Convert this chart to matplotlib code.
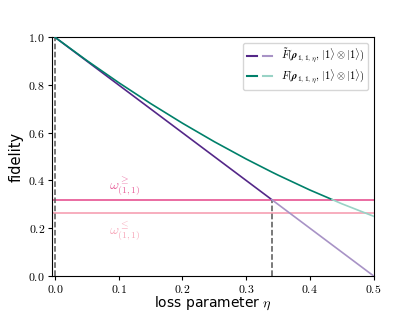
import matplotlib
matplotlib.use('Agg')
import matplotlib.pyplot as plt
import numpy as np
from matplotlib.lines import Line2D
from matplotlib.legend_handler import HandlerTuple

plt.rcParams['mathtext.fontset'] = 'cm'

# loss parameter samples and fidelities
eta = [0.0, 0.05, 0.1, 0.15, 0.2, 0.25, 0.3, 0.34, 0.35, 0.4, 0.435, 0.45, 0.5]
f_tilde = [1.0, 0.9, 0.8, 0.7, 0.6, 0.5, 0.4, 0.32, 0.3, 0.2, 0.13, 0.1, 0.0]
f_plain = [1.0, 0.9025, 0.81, 0.7225, 0.64, 0.5625, 0.49, 0.4356, 0.4225, 0.36, 0.32, 0.3025, 0.25]

omega_hi = 0.32     # omega^>=_(1,1)
omega_lo = 0.265    # omega^<=_(1,1)
eta_cut_tilde = 0.34
eta_cut_plain = 0.435

purple, purple_l = '#542788', '#a893c6'
green, green_l = '#00806a', '#99d3c6'
pink, pink_l = '#e8609a', '#f7a7b9'

eta = np.array(eta)
f_tilde = np.array(f_tilde)
f_plain = np.array(f_plain)

fig, ax = plt.subplots(figsize=(4.15, 3.11), dpi=100)
fig.subplots_adjust(left=0.125, right=0.9, bottom=0.113, top=0.88)

# horizontal thresholds
ax.axhline(omega_hi, color=pink, linewidth=1.3, zorder=1)
ax.axhline(omega_lo, color=pink_l, linewidth=1.3, zorder=1)

# dashed markers
ax.plot([0, 0], [0, 1], color='#555555', linestyle='--', linewidth=1.1, zorder=2)
ax.plot([eta_cut_tilde, eta_cut_tilde], [0, omega_hi], color='#555555',
        linestyle='--', linewidth=1.1, zorder=2)

m1 = eta <= eta_cut_tilde
ax.plot(eta[m1], f_tilde[m1], color=purple, linewidth=1.2, zorder=3)
m1b = eta >= eta_cut_tilde
ax.plot(eta[m1b], f_tilde[m1b], color=purple_l, linewidth=1.2, zorder=3)

m2 = eta <= eta_cut_plain
ax.plot(eta[m2], f_plain[m2], color=green, linewidth=1.2, zorder=3)
m2b = eta >= eta_cut_plain
ax.plot(eta[m2b], f_plain[m2b], color=green_l, linewidth=1.2, zorder=3)

ax.text(0.11, omega_hi + 0.01, r'$\omega^{\geq}_{(1,1)}$', color=pink,
        ha='center', va='bottom', fontsize=10)
ax.text(0.11, omega_lo - 0.03, r'$\omega^{\leq}_{(1,1)}$', color=pink_l,
        ha='center', va='top', fontsize=10)

ax.set_xlim(-0.005, 0.5)
ax.set_ylim(0, 1)
xt = [0.0, 0.1, 0.2, 0.3, 0.4, 0.5]
yt = [0.0, 0.2, 0.4, 0.6, 0.8, 1.0]
ax.set_xticks(xt)
ax.set_xticklabels([f'${v:.1f}$' for v in xt])
ax.set_yticks(yt)
ax.set_yticklabels([f'${v:.1f}$' for v in yt])
ax.tick_params(labelsize=8.5, length=3, pad=2)
ax.set_xlabel(r'loss parameter $\eta$', fontsize=10, labelpad=-1)
ax.set_ylabel('fidelity', fontsize=10.5, labelpad=3)

h1 = (Line2D([], [], color=purple, linewidth=1.5), Line2D([], [], color=purple_l, linewidth=1.5))
h2 = (Line2D([], [], color=green, linewidth=1.5), Line2D([], [], color=green_l, linewidth=1.5))
ax.legend([h1, h2],
          [r'$\tilde{F}(\boldsymbol{\rho}_{1,1,\eta},\,|1\rangle\otimes|1\rangle)$',
           r'$F(\boldsymbol{\rho}_{1,1,\eta},\,|1\rangle\otimes|1\rangle)$'],
          handler_map={tuple: HandlerTuple(ndivide=None, pad=0.6)},
          loc='upper right', fontsize=7.5, handlelength=2.4, labelspacing=0.2,
          borderpad=0.4)

plt.savefig('out.png', dpi=100)
plt.close(fig)
